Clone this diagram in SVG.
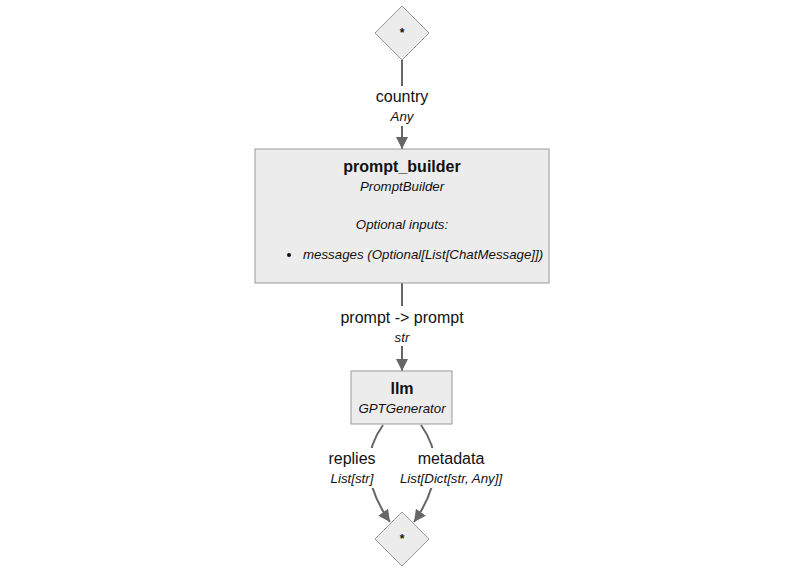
<svg xmlns="http://www.w3.org/2000/svg" width="800" height="576" viewBox="0 0 800 576">
<defs>
<marker id="arr" viewBox="0 0 10 10" refX="10" refY="5" markerUnits="userSpaceOnUse" markerWidth="12" markerHeight="12" orient="auto">
<path d="M0,0 L10,5 L0,10 z" fill="#666"/>
</marker>
</defs>
<style>
.node{fill:#ececec;stroke:#999;stroke-width:1}
.edge{fill:none;stroke:#666;stroke-width:2}
.lbg{fill:#fff}
text{font-family:"Liberation Sans",Arial,sans-serif;fill:#111}
.t{font-size:16px;font-weight:bold;text-anchor:middle}
.s{font-size:13.3px;font-style:italic;text-anchor:middle}
.el{font-size:16px;text-anchor:middle}
.ei{font-size:13.3px;font-style:italic;text-anchor:middle}
.star{font-size:12px;font-weight:bold;text-anchor:middle}
</style>
<rect width="800" height="576" fill="#fff"/>
<g id="connectors">
<path class="edge" d="M402,60 L402,149" marker-end="url(#arr)"/>
<path class="edge" d="M402,283 L402,371" marker-end="url(#arr)"/>
<path class="edge" d="M383,425 Q352,468 390,522" marker-end="url(#arr)"/>
<path class="edge" d="M421,425 Q452,468 414,522" marker-end="url(#arr)"/>
<rect class="lbg" x="372" y="86" width="60" height="40"/>
<text class="el" x="402" y="102">country</text>
<text class="ei" x="402" y="121">Any</text>
<rect class="lbg" x="336" y="306" width="132" height="40"/>
<text class="el" x="402" y="323">prompt -&gt; prompt</text>
<text class="ei" x="402" y="342">str</text>
<rect class="lbg" x="326" y="448" width="54" height="40"/>
<text class="el" x="352" y="464">replies</text>
<text class="ei" x="352" y="483">List[str]</text>
<rect class="lbg" x="393" y="448" width="118" height="40"/>
<text class="el" x="451" y="464">metadata</text>
<text class="ei" x="451" y="483">List[Dict[str, Any]]</text>
</g>
<g id="start">
<polygon class="node" points="402,6 429,33 402,60 375,33"/>
<text class="star" x="402" y="37">*</text>
</g>
<g id="prompt_builder">
<rect class="node" x="255" y="149" width="294" height="134"/>
<text class="t" x="402" y="172">prompt_builder</text>
<text class="s" x="402" y="191">PromptBuilder</text>
<text class="s" x="402" y="229">Optional inputs:</text>
<circle cx="289" cy="255" r="2" fill="#111"/>
<text class="s" x="303" y="259" style="text-anchor:start">messages (Optional[List[ChatMessage]])</text>
</g>
<g id="llm">
<rect class="node" x="351" y="371" width="101" height="53"/>
<text class="t" x="402" y="394">llm</text>
<text class="s" x="402" y="413">GPTGenerator</text>
</g>
<g id="end">
<polygon class="node" points="402,512 429,539 402,566 375,539"/>
<text class="star" x="402" y="543">*</text>
</g>
</svg>
